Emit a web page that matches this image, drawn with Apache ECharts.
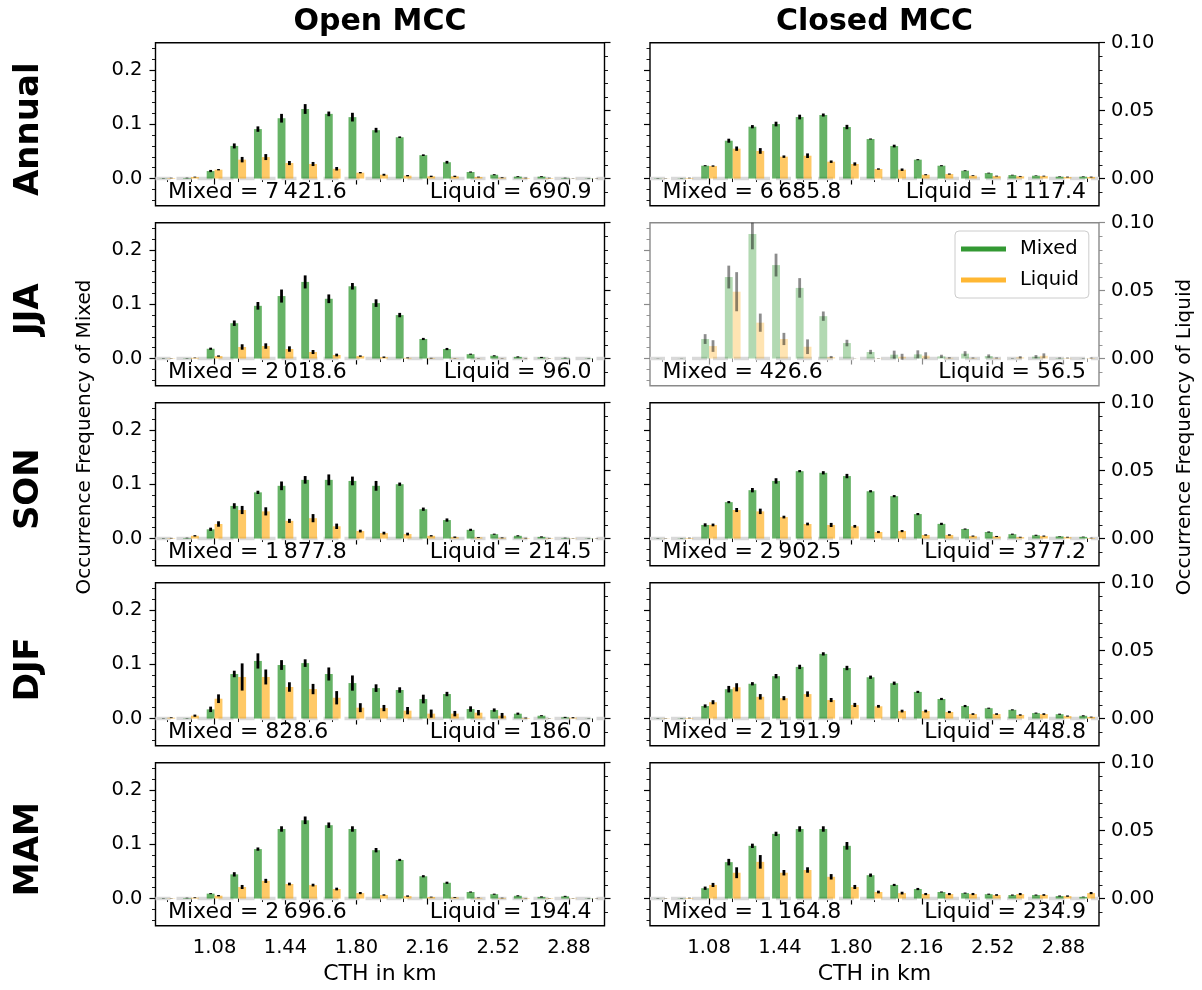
<!DOCTYPE html>
<html>
<head>
<meta charset="utf-8">
<script src="https://cdn.jsdelivr.net/npm/echarts@6/dist/echarts.min.js"></script>
<style>
  html, body { margin: 0; padding: 0; background: #fff; }
  #chart { width: 1202px; height: 990px; }
</style>
</head>
<body>
<div id="chart"></div>
<script>
// Cloud-top-height bin centres (km)
const cthBins = ['0.84','0.96','1.08','1.20','1.32','1.44','1.56','1.68','1.80','1.92',
                 '2.04','2.16','2.28','2.40','2.52','2.64','2.76','2.88','3.00'];
const labelledBins = [2, 5, 8, 11, 14, 17];

// Tick values of the two frequency axes
const mixedMajorTicks  = [0, 0.1, 0.2];
const mixedMinorTicks  = [-0.04, -0.02, 0.02, 0.04, 0.06, 0.08, 0.12, 0.14, 0.16, 0.18, 0.22, 0.24];
const liquidMajorTicks = [0, 0.05, 0.10];
const liquidMinorTicks = [-0.01, 0.01, 0.02, 0.03, 0.04, 0.06, 0.07, 0.08, 0.09];

const seasons = ['Annual', 'JJA', 'SON', 'DJF', 'MAM'];
const regimes = ['Open MCC', 'Closed MCC'];

// Sample sizes per season (Annual, JJA, SON, DJF, MAM)
const openMixedCounts    = [7421.6, 2018.6, 1877.8, 828.6, 2696.6];
const openLiquidCounts   = [690.9, 96.0, 214.5, 186.0, 194.4];
const closedMixedCounts  = [6685.8, 426.6, 2902.5, 2191.9, 1164.8];
const closedLiquidCounts = [1117.4, 56.5, 377.2, 448.8, 234.9];

// ---- Open MCC ----
const openAnnualMixed     = [0.0005,0.001,0.0138,0.060,0.091,0.111,0.128,0.119,0.113,0.089,0.076,0.043,0.030,0.012,0.007,0.0035,0.0035,0.001,0.0005];
const openAnnualMixedErr  = [0.0003,0.0005,0.002,0.0046,0.005,0.008,0.009,0.0043,0.008,0.0043,0.0015,0.0015,0.0025,0.001,0.001,0.0008,0.0008,0.0005,0.0003];
const openAnnualLiquid    = [0.0004,0.0011,0.0065,0.0139,0.0158,0.0114,0.0107,0.0072,0.0043,0.0028,0.0021,0.0016,0.0016,0.0011,0.0006,0.0004,0.0004,0.0001,0.0001];
const openAnnualLiquidErr = [0.0002,0.0003,0.0005,0.002,0.0022,0.0015,0.0015,0.0013,0.0005,0.0007,0.0005,0.0005,0.0005,0.0003,0.0003,0.0002,0.0002,0.0001,0.0001];

const openJJAMixed     = [0.0003,0.0005,0.018,0.065,0.097,0.115,0.141,0.110,0.133,0.102,0.080,0.036,0.0175,0.008,0.005,0.003,0.002,0.001,0.0005];
const openJJAMixedErr  = [0.0003,0.0003,0.002,0.005,0.007,0.012,0.012,0.008,0.006,0.007,0.004,0.002,0.002,0.001,0.001,0.001,0.001,0.0005,0.0003];
const openJJALiquid    = [0.0002,0.0005,0.0018,0.0085,0.0092,0.007,0.0048,0.0026,0.0018,0.001,0.0005,0.0003,0.0002,0.0001,0.0001,0.0001,0.0001,0,0];
const openJJALiquidErr = [0.0001,0.0002,0.0005,0.002,0.002,0.002,0.0015,0.001,0.0005,0.0005,0.0003,0.0002,0.0001,0.0001,0.0001,0.0001,0.0001,0,0];

const openSONMixed     = [0.0003,0.001,0.017,0.060,0.085,0.097,0.108,0.108,0.106,0.097,0.100,0.054,0.034,0.016,0.008,0.005,0.003,0.001,0.0005];
const openSONMixedErr  = [0.0003,0.0005,0.003,0.005,0.003,0.008,0.007,0.010,0.008,0.009,0.003,0.003,0.003,0.002,0.001,0.001,0.001,0.0005,0.0003];
const openSONLiquid    = [0.0003,0.002,0.0107,0.021,0.020,0.013,0.015,0.009,0.0055,0.004,0.0033,0.002,0.001,0.0008,0.0005,0.0003,0.0003,0.0002,0.0001];
const openSONLiquidErr = [0.0002,0.0005,0.002,0.003,0.003,0.0015,0.003,0.002,0.001,0.001,0.001,0.0005,0.0005,0.0003,0.0003,0.0002,0.0002,0.0001,0.0001];

const openDJFMixed     = [0.0002,0.0005,0.0169,0.082,0.106,0.0985,0.102,0.082,0.0653,0.056,0.0525,0.0359,0.0451,0.0175,0.0156,0.0089,0.0052,0.0021,0.0003];
const openDJFMixedErr  = [0.0003,0.0003,0.005,0.006,0.014,0.009,0.007,0.012,0.014,0.007,0.005,0.008,0.004,0.005,0.003,0.002,0.001,0.001,0.0003];
const openDJFLiquid    = [0.0006,0.0021,0.0146,0.0306,0.0306,0.0232,0.0217,0.0153,0.008,0.0077,0.0058,0.0036,0.0036,0.0043,0.0021,0.0004,0.0001,0.0006,0];
const openDJFLiquidErr = [0.0003,0.0008,0.0032,0.010,0.0055,0.0035,0.0038,0.0049,0.0033,0.0023,0.0027,0.003,0.002,0.002,0.002,0.0003,0.0001,0.0004,0];

const openMAMMixed     = [0.0003,0.001,0.009,0.0445,0.091,0.128,0.144,0.135,0.128,0.089,0.071,0.041,0.029,0.012,0.008,0.005,0.003,0.004,0.0005];
const openMAMMixedErr  = [0.0003,0.0005,0.001,0.004,0.003,0.005,0.007,0.005,0.005,0.004,0.002,0.002,0.002,0.001,0.001,0.001,0.001,0.001,0.0003];
const openMAMLiquid    = [0.0002,0.0006,0.0021,0.0085,0.013,0.0107,0.0099,0.007,0.004,0.0026,0.0018,0.0011,0.0008,0.0005,0.0004,0.0003,0.0003,0.0002,0.0001];
const openMAMLiquidErr = [0.0001,0.0003,0.0005,0.0015,0.0015,0.001,0.001,0.001,0.0008,0.0005,0.0005,0.0003,0.0003,0.0002,0.0002,0.0001,0.0001,0.0001,0.0001];

// ---- Closed MCC ----
const closedAnnualMixed     = [0.0005,0.0005,0.0236,0.0696,0.0954,0.1003,0.1132,0.1169,0.0948,0.0727,0.0598,0.0347,0.0236,0.0144,0.0101,0.0064,0.0052,0.0034,0.0034];
const closedAnnualMixedErr  = [0.0003,0.0003,0.001,0.0037,0.003,0.0043,0.0043,0.0028,0.004,0.001,0.0025,0.001,0.001,0.0008,0.0007,0.0006,0.0005,0.0005,0.0005];
const closedAnnualLiquid    = [0.0001,0.0004,0.0092,0.0220,0.0203,0.0161,0.0168,0.0124,0.0107,0.0070,0.0065,0.0028,0.0033,0.0021,0.0018,0.0016,0.0018,0.0011,0.0011];
const closedAnnualLiquidErr = [0.0001,0.0002,0.0005,0.0016,0.0021,0.0009,0.0017,0.0009,0.0012,0.0005,0.0009,0.0004,0.0004,0.0003,0.0003,0.0003,0.0003,0.0003,0.0003];

const closedJJAMixed     = [0.0003,0.0003,0.0359,0.150,0.229,0.172,0.130,0.078,0.0285,0.012,0.0071,0.0077,0.004,0.0089,0.0046,0.0003,0.0034,0.001,0.0003];
const closedJJAMixedErr  = [0.0003,0.0003,0.009,0.021,0.028,0.021,0.018,0.0086,0.006,0.004,0.0074,0.0074,0.003,0.0046,0.003,0.0005,0.003,0.001,0.0005];
const closedJJALiquid    = [0,0,0.0092,0.0492,0.0264,0.0144,0.0087,0.0011,0.0001,0.0002,0.0013,0.0021,0.0005,0.0004,0.0004,0.0009,0.002,0.0004,0.0004];
const closedJJALiquidErr = [0,0,0.0043,0.0144,0.0067,0.0045,0.0054,0.0008,0.0001,0.0002,0.0022,0.0025,0.0005,0.0004,0.0004,0.0008,0.0018,0.0004,0.0004];

const closedSONMixed     = [0.0003,0.0005,0.025,0.067,0.089,0.106,0.124,0.121,0.115,0.087,0.078,0.045,0.027,0.0175,0.012,0.008,0.006,0.004,0.003];
const closedSONMixedErr  = [0.0003,0.0003,0.003,0.002,0.004,0.005,0.002,0.003,0.004,0.002,0.002,0.002,0.002,0.001,0.001,0.001,0.001,0.0005,0.0005];
const closedSONLiquid    = [0.0001,0.0004,0.010,0.021,0.020,0.0158,0.0107,0.010,0.009,0.0048,0.0055,0.0026,0.0026,0.0018,0.0015,0.001,0.0018,0.001,0.0004];
const closedSONLiquidErr = [0.0001,0.0002,0.001,0.0015,0.002,0.001,0.001,0.0015,0.001,0.0008,0.0008,0.0005,0.0005,0.0004,0.0004,0.0003,0.0004,0.0003,0.0002];

const closedDJFMixed     = [0.0003,0.0005,0.023,0.054,0.064,0.078,0.095,0.119,0.093,0.076,0.065,0.049,0.036,0.023,0.019,0.016,0.010,0.008,0.005];
const closedDJFMixedErr  = [0.0003,0.0003,0.003,0.006,0.003,0.004,0.004,0.003,0.004,0.003,0.003,0.002,0.002,0.002,0.001,0.001,0.001,0.001,0.001];
const closedDJFLiquid    = [0.0002,0.0004,0.012,0.023,0.016,0.015,0.018,0.0136,0.010,0.009,0.0055,0.0055,0.0048,0.0033,0.0033,0.0026,0.0033,0.0018,0.0011];
const closedDJFLiquidErr = [0.0001,0.0002,0.0015,0.003,0.002,0.0015,0.002,0.0015,0.0015,0.001,0.001,0.001,0.0008,0.0006,0.0006,0.0005,0.0006,0.0004,0.0003];

const closedMAMMixed     = [0.0003,0.0005,0.019,0.067,0.097,0.119,0.128,0.128,0.097,0.043,0.025,0.0175,0.012,0.010,0.008,0.0064,0.0064,0.0046,0.003];
const closedMAMMixedErr  = [0.0003,0.0003,0.003,0.006,0.004,0.004,0.005,0.005,0.007,0.003,0.002,0.002,0.001,0.001,0.001,0.001,0.001,0.001,0.0005];
const closedMAMLiquid    = [0.0001,0.0004,0.010,0.019,0.027,0.019,0.021,0.016,0.0085,0.0048,0.004,0.0033,0.0033,0.0033,0.0026,0.0033,0.0026,0.0018,0.004];
const closedMAMLiquidErr = [0.0001,0.0002,0.0015,0.004,0.005,0.002,0.002,0.002,0.0015,0.001,0.001,0.0008,0.0008,0.0008,0.0006,0.0008,0.0006,0.0005,0.0008];

// ---------------------------------------------------------------
const FONT = '"DejaVu Sans", "Liberation Sans", sans-serif';
const GRID_W = 449, GRID_H = 163;
const colLeft = [155.5, 650];
const rowTop = [42.7, 222.7, 402.7, 582.7, 762.7];

const panels = [
  { season: 0, col: 0, mixed: openAnnualMixed, mixedErr: openAnnualMixedErr, liquid: openAnnualLiquid, liquidErr: openAnnualLiquidErr },
  { season: 1, col: 0, mixed: openJJAMixed, mixedErr: openJJAMixedErr, liquid: openJJALiquid, liquidErr: openJJALiquidErr },
  { season: 2, col: 0, mixed: openSONMixed, mixedErr: openSONMixedErr, liquid: openSONLiquid, liquidErr: openSONLiquidErr },
  { season: 3, col: 0, mixed: openDJFMixed, mixedErr: openDJFMixedErr, liquid: openDJFLiquid, liquidErr: openDJFLiquidErr },
  { season: 4, col: 0, mixed: openMAMMixed, mixedErr: openMAMMixedErr, liquid: openMAMLiquid, liquidErr: openMAMLiquidErr },
  { season: 0, col: 1, mixed: closedAnnualMixed, mixedErr: closedAnnualMixedErr, liquid: closedAnnualLiquid, liquidErr: closedAnnualLiquidErr },
  { season: 1, col: 1, mixed: closedJJAMixed, mixedErr: closedJJAMixedErr, liquid: closedJJALiquid, liquidErr: closedJJALiquidErr, faded: true },
  { season: 2, col: 1, mixed: closedSONMixed, mixedErr: closedSONMixedErr, liquid: closedSONLiquid, liquidErr: closedSONLiquidErr },
  { season: 3, col: 1, mixed: closedDJFMixed, mixedErr: closedDJFMixedErr, liquid: closedDJFLiquid, liquidErr: closedDJFLiquidErr },
  { season: 4, col: 1, mixed: closedMAMMixed, mixedErr: closedMAMMixedErr, liquid: closedMAMLiquid, liquidErr: closedMAMLiquidErr }
];

function fmtCount(v) {
  const parts = v.toFixed(1).split('.');
  return parts[0].replace(/\B(?=(\d{3})+(?!\d))/g, '\u2009') + '.' + parts[1];
}

const grids = [], xAxes = [], yAxes = [], series = [], graphics = [];

panels.forEach((p, g) => {
  const gx = colLeft[p.col], gy = rowTop[p.season];
  const frame = p.faded ? '#8a8a8a' : '#000';
  const alphaBar = p.faded ? 0.3 : 0.6;
  const errColor = p.faded ? 'rgba(0,0,0,0.45)' : '#000';
  const bottomRow = p.season === 4;

  grids.push({ left: gx, top: gy, width: GRID_W, height: GRID_H, show: true,
               borderColor: frame, borderWidth: 1.4, backgroundColor: 'transparent' });

  // major x ticks / labels
  xAxes.push({
    type: 'category', gridIndex: g, position: 'bottom', data: cthBins,
    axisLine: { show: false }, splitLine: { show: false },
    axisTick: { show: true, alignWithLabel: true, interval: (i) => labelledBins.includes(i),
                length: 6, lineStyle: { color: frame, width: 1.2 } },
    axisLabel: { show: bottomRow, interval: (i) => labelledBins.includes(i), margin: 12,
                 fontSize: 19.5, fontFamily: FONT, color: '#000' }
  });
  // minor x ticks at every bin
  xAxes.push({
    type: 'category', gridIndex: g, position: 'bottom', data: cthBins,
    axisLine: { show: false }, splitLine: { show: false }, axisLabel: { show: false },
    axisTick: { show: true, alignWithLabel: true, interval: 0, length: 3.5, lineStyle: { color: frame, width: 0.9 } }
  });

  const yBase = { type: 'value', gridIndex: g, axisLine: { show: false }, splitLine: { show: false } };
  // mixed axis (left)
  yAxes.push(Object.assign({}, yBase, {
    position: 'left', min: -0.05, max: 0.25,
    axisTick: { show: true, customValues: mixedMajorTicks, length: 6, lineStyle: { color: frame, width: 1.2 } },
    axisLabel: { show: p.col === 0, customValues: mixedMajorTicks, formatter: (v) => v.toFixed(1),
                 margin: 13, fontSize: 19.5, fontFamily: FONT, color: '#000' }
  }));
  yAxes.push(Object.assign({}, yBase, {
    position: 'left', min: -0.05, max: 0.25, axisLabel: { show: false },
    axisTick: { show: true, customValues: mixedMinorTicks, length: 3.5, lineStyle: { color: frame, width: 0.9 } }
  }));
  // liquid axis (right)
  yAxes.push(Object.assign({}, yBase, {
    position: 'right', min: -0.02, max: 0.10,
    axisTick: { show: true, customValues: liquidMajorTicks, length: 6, lineStyle: { color: frame, width: 1.2 } },
    axisLabel: { show: p.col === 1, customValues: liquidMajorTicks, formatter: (v) => v.toFixed(2),
                 margin: 12, fontSize: 19.5, fontFamily: FONT, color: '#000' }
  }));
  yAxes.push(Object.assign({}, yBase, {
    position: 'right', min: -0.02, max: 0.10, axisLabel: { show: false },
    axisTick: { show: true, customValues: liquidMinorTicks, length: 3.5, lineStyle: { color: frame, width: 0.9 } }
  }));

  const xi = 2 * g, yMixed = 4 * g, yLiquid = 4 * g + 2;

  // light dashed zero line behind the bars
  series.push({
    type: 'custom', xAxisIndex: xi, yAxisIndex: yMixed, z: 1, silent: true, data: [[0, 0]],
    renderItem: (params, api) => {
      const cs = params.coordSys;
      const y = api.coord([0, 0])[1];
      return { type: 'line', shape: { x1: cs.x, y1: y, x2: cs.x + cs.width, y2: y },
               style: { stroke: '#d9d9d9', lineWidth: 3.5, lineDash: [15, 6] } };
    }
  });

  series.push({
    type: 'bar', name: 'Mixed', xAxisIndex: xi, yAxisIndex: yMixed, z: 2, silent: true,
    barWidth: '33.333%', barGap: '0%', data: p.mixed,
    itemStyle: { color: 'rgba(0,128,0,' + alphaBar + ')' }
  });
  series.push({
    type: 'bar', name: 'Liquid', xAxisIndex: xi, yAxisIndex: yLiquid, z: 2, silent: true,
    barWidth: '33.333%', barGap: '0%', data: p.liquid,
    itemStyle: { color: 'rgba(255,165,0,' + alphaBar + ')' }
  });

  const errSeries = (yIdx, vals, errs, side) => ({
    type: 'custom', xAxisIndex: xi, yAxisIndex: yIdx, z: 4, silent: true,
    data: vals.map((v, i) => [i, v, errs[i]]),
    renderItem: (params, api) => {
      const i = api.value(0), v = api.value(1), e = api.value(2);
      const band = api.size([1, 0])[0];
      const hi = api.coord([i, v + e]), lo = api.coord([i, v - e]);
      const cs = params.coordSys;
      const x = hi[0] + side * band / 6;
      const y1 = Math.max(hi[1], cs.y), y2 = Math.min(lo[1], cs.y + cs.height);
      return { type: 'line', shape: { x1: x, y1: y1, x2: x, y2: y2 },
               style: { stroke: errColor, lineWidth: 2.8 } };
    }
  });
  series.push(errSeries(yMixed, p.mixed, p.mixedErr, -1));
  series.push(errSeries(yLiquid, p.liquid, p.liquidErr, 1));

  // sample-size annotations
  const counts = p.col === 0 ? [openMixedCounts, openLiquidCounts] : [closedMixedCounts, closedLiquidCounts];
  graphics.push({ type: 'text', x: gx + 12.5, y: gy + 149.5, z: 10,
    style: { text: 'Mixed = ' + fmtCount(counts[0][p.season]), font: '22px ' + FONT, fill: '#000',
             textAlign: 'left', textVerticalAlign: 'middle', align: 'left', verticalAlign: 'middle' } });
  graphics.push({ type: 'text', x: gx + GRID_W - 13, y: gy + 149.5, z: 10,
    style: { text: 'Liquid = ' + fmtCount(counts[1][p.season]), font: '22px ' + FONT, fill: '#000',
             textAlign: 'right', textVerticalAlign: 'middle', align: 'right', verticalAlign: 'middle' } });
});

// column titles and x-axis names
regimes.forEach((name, c) => {
  const cx = colLeft[c] + GRID_W / 2;
  graphics.push({ type: 'text', x: cx, y: 22,
    style: { text: name, font: 'bold 30px ' + FONT, fill: '#000',
             textAlign: 'center', textVerticalAlign: 'middle', align: 'center', verticalAlign: 'middle' } });
  graphics.push({ type: 'text', x: cx, y: 974,
    style: { text: 'CTH in km', font: '22px ' + FONT, fill: '#000',
             textAlign: 'center', textVerticalAlign: 'middle', align: 'center', verticalAlign: 'middle' } });
});

// season row labels
seasons.forEach((name, r) => {
  graphics.push({ type: 'text', x: 29, y: rowTop[r] + GRID_H / 2 + 5, rotation: Math.PI / 2,
    style: { text: name, font: 'bold 34px ' + FONT, fill: '#000',
             textAlign: 'center', textVerticalAlign: 'middle', align: 'center', verticalAlign: 'middle' } });
});

// shared y-axis names
graphics.push({ type: 'text', x: 85, y: 437, rotation: Math.PI / 2,
  style: { text: 'Occurrence Frequency of Mixed', font: '20px ' + FONT, fill: '#000',
           textAlign: 'center', textVerticalAlign: 'middle', align: 'center', verticalAlign: 'middle' } });
graphics.push({ type: 'text', x: 1185, y: 437, rotation: Math.PI / 2,
  style: { text: 'Occurrence Frequency of Liquid', font: '20px ' + FONT, fill: '#000',
           textAlign: 'center', textVerticalAlign: 'middle', align: 'center', verticalAlign: 'middle' } });

const chart = echarts.init(document.getElementById('chart'), null, { renderer: 'canvas' });
chart.setOption({
  animation: false,
  backgroundColor: '#fff',
  grid: grids,
  xAxis: xAxes,
  yAxis: yAxes,
  legend: {
    data: [
      { name: 'Mixed', icon: 'rect', itemStyle: { color: 'rgba(0,128,0,0.8)' } },
      { name: 'Liquid', icon: 'rect', itemStyle: { color: 'rgba(255,165,0,0.8)' } }
    ],
    orient: 'vertical', left: 955, top: 231, selectedMode: false,
    itemWidth: 45, itemHeight: 5, itemGap: 11,
    padding: [8, 10, 8, 6], borderColor: '#cccccc', borderWidth: 1, borderRadius: 4,
    backgroundColor: 'rgba(255,255,255,0.8)',
    textStyle: { fontSize: 19.5, fontFamily: FONT, color: '#000', padding: [0, 0, 0, 9] }
  },
  series: series,
  graphic: graphics
});
</script>
</body>
</html>
